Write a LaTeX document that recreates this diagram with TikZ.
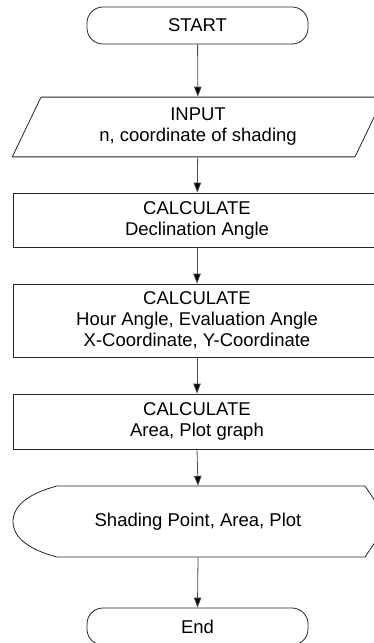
\documentclass[tikz,border=0pt]{standalone}
\usepackage{fontspec}
\setmainfont{Liberation Sans}
\usetikzlibrary{shapes.geometric,arrows.meta}

\tikzset{
  term/.style={draw=black!85, line width=0.8pt, rounded corners=16pt, minimum width=221pt, minimum height=37pt, inner sep=0pt},
  io/.style={draw=black!85, line width=0.8pt, trapezium, trapezium left angle=64.3, trapezium right angle=115.7, minimum width=372pt, minimum height=56pt, inner sep=0pt, align=center},
  proc/.style={draw=black!85, line width=0.8pt, rectangle, minimum width=368pt, inner sep=0pt, align=center},
  flow/.style={draw=black!70, line width=0.8pt, -{Triangle[length=10pt,width=7.5pt,fill=black]}}
}

\begin{document}
\begin{tikzpicture}[x=1pt,y=-1pt,font=\fontsize{18.5}{21}\selectfont]
\useasboundingbox (0,0) rectangle (374,643);

\node[term] (start) at (197.5,25.5) {START};
\node[io] (input) at (198,127) {INPUT\\n, coordinate of shading};
\node[proc,minimum height=54pt] (calc1) at (197,220) {CALCULATE\\Declination Angle};
\node[proc,minimum height=73pt] (calc2) at (197,320.5) {CALCULATE\\Hour Angle, Evaluation Angle\\X-Coordinate, Y-Coordinate};
\node[proc,minimum height=55pt] (calc3) at (197,421.5) {CALCULATE\\Area, Plot graph};
\node[minimum width=368pt, minimum height=71pt, inner sep=0pt] (show) at (198,521.5) {Shading Point, Area, Plot};
\node[term] (end) at (197.5,626.5) {End};

% display symbol
\draw[black!85,line width=0.8pt] (57,486) -- (365,486) -- (389,521.5) -- (365,557) -- (57,557)
  .. controls (30,550) and (13,538) .. (13,521.5)
  .. controls (13,505) and (30,493) .. (57,486);

\draw[flow] (start) -- (input);
\draw[flow] (input) -- (calc1);
\draw[flow] (calc1) -- (calc2);
\draw[flow] (calc2) -- (calc3);
\draw[flow] (calc3.south) -- (show.north);
\draw[flow] (show.south) -- (end.north);
\end{tikzpicture}
\end{document}
